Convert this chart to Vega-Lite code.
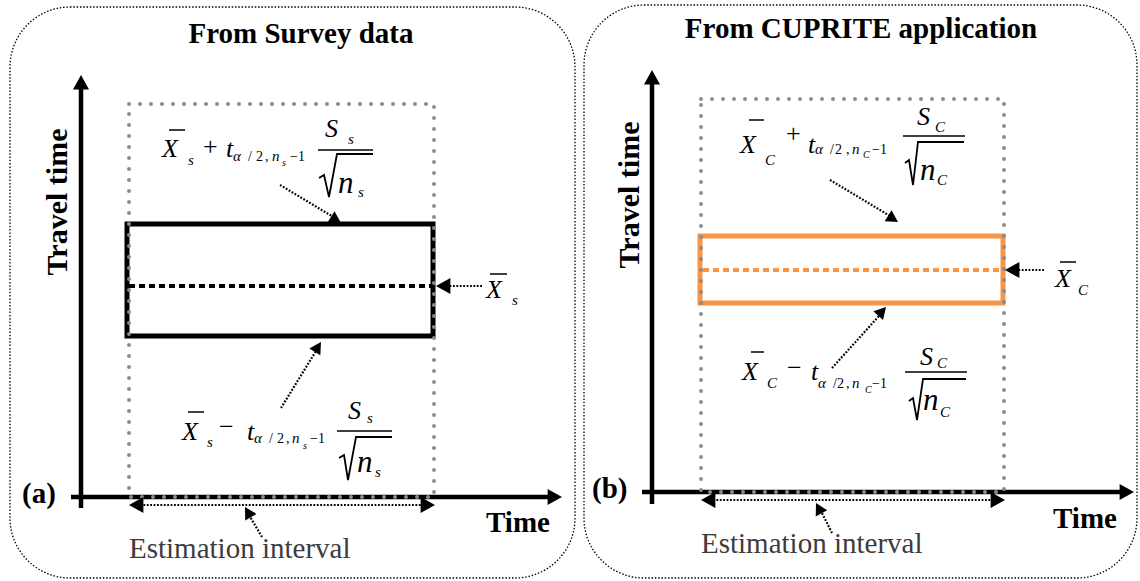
{
  "$schema": "https://vega.github.io/schema/vega-lite/v6.json",
  "width": 1140,
  "height": 581,
  "padding": 0,
  "autosize": {"type": "fit", "contains": "padding"},
  "config": {"view": {"stroke": null}, "font": "'Liberation Serif', 'DejaVu Serif', serif"},
  "datasets": {
    "panels": [
      {"x": 10, "x2": 575, "y": 7, "y2": 578},
      {"x": 584, "x2": 1137, "y": 5, "y2": 578}
    ],
    "windows": [
      {"x": 129, "x2": 434, "y": 104, "y2": 497},
      {"x": 701, "x2": 1004, "y": 99, "y2": 492}
    ],
    "ciS": [{"x": 127, "x2": 433, "y": 224, "y2": 336}],
    "ciC": [{"x": 700, "x2": 1003, "y": 236, "y2": 303}],
    "meanS": [{"x": 129, "x2": 431, "y": 286, "y2": 286}],
    "meanC": [{"x": 703, "x2": 1000, "y": 270, "y2": 270}],
    "axes": [
      {"x": 81, "x2": 81, "y": 508, "y2": 85},
      {"x": 71, "x2": 550, "y": 497, "y2": 497},
      {"x": 652, "x2": 652, "y": 504, "y2": 80},
      {"x": 642, "x2": 1122, "y": 492, "y2": 492}
    ],
    "pointers": [
      {"x": 280, "y": 185, "x2": 335, "y2": 218},
      {"x": 281, "y": 408, "x2": 316, "y2": 351},
      {"x": 482, "y": 286, "x2": 448, "y2": 286},
      {"x": 262, "y": 537, "x2": 249, "y2": 515},
      {"x": 140, "y": 505, "x2": 423, "y2": 505},
      {"x": 830, "y": 180, "x2": 890, "y2": 216},
      {"x": 832, "y": 368, "x2": 879, "y2": 316},
      {"x": 1044, "y": 270, "x2": 1016, "y2": 270},
      {"x": 832, "y": 533, "x2": 821, "y2": 511},
      {"x": 713, "y": 500, "x2": 992, "y2": 500}
    ],
    "bigHeads": [
      {"x": 81, "y": 75, "a": 0},
      {"x": 562, "y": 497, "a": 90},
      {"x": 652, "y": 70, "a": 0},
      {"x": 1134, "y": 492, "a": 90},
      {"x": 436, "y": 286, "a": 270},
      {"x": 1005, "y": 270, "a": 270},
      {"x": 129, "y": 505, "a": 270},
      {"x": 435, "y": 505, "a": 90},
      {"x": 701, "y": 500, "a": 270},
      {"x": 1005, "y": 500, "a": 90}
    ],
    "smallHeads": [
      {"x": 341, "y": 223, "a": 122},
      {"x": 321, "y": 342, "a": 32},
      {"x": 245, "y": 507, "a": 330},
      {"x": 898, "y": 222, "a": 122},
      {"x": 886, "y": 307, "a": 42},
      {"x": 816, "y": 503, "a": 332}
    ],
    "thin": [
      {"x": 318, "x2": 373, "y": 150, "y2": 150},
      {"x": 169, "x2": 185, "y": 130, "y2": 130},
      {"x": 337, "x2": 392, "y": 431, "y2": 431},
      {"x": 188, "x2": 204, "y": 412, "y2": 412},
      {"x": 903, "x2": 965, "y": 136, "y2": 136},
      {"x": 749, "x2": 764, "y": 120, "y2": 120},
      {"x": 905, "x2": 967, "y": 372, "y2": 372},
      {"x": 751, "x2": 764, "y": 352, "y2": 352},
      {"x": 490, "x2": 507, "y": 274, "y2": 274},
      {"x": 1060, "x2": 1076, "y": 262, "y2": 262}
    ],
    "radicals": [
      {"id": 1, "k": 1, "x": 319, "y": 178}, {"id": 1, "k": 2, "x": 324, "y": 175}, {"id": 1, "k": 3, "x": 329, "y": 197}, {"id": 1, "k": 4, "x": 337, "y": 154}, {"id": 1, "k": 5, "x": 373, "y": 154},
      {"id": 2, "k": 1, "x": 339, "y": 458}, {"id": 2, "k": 2, "x": 344, "y": 455}, {"id": 2, "k": 3, "x": 348, "y": 480}, {"id": 2, "k": 4, "x": 356, "y": 437}, {"id": 2, "k": 5, "x": 392, "y": 437},
      {"id": 3, "k": 1, "x": 905, "y": 163}, {"id": 3, "k": 2, "x": 909, "y": 160}, {"id": 3, "k": 3, "x": 913, "y": 185}, {"id": 3, "k": 4, "x": 918, "y": 142}, {"id": 3, "k": 5, "x": 964, "y": 142},
      {"id": 4, "k": 1, "x": 909, "y": 401}, {"id": 4, "k": 2, "x": 913, "y": 398}, {"id": 4, "k": 3, "x": 917, "y": 420}, {"id": 4, "k": 4, "x": 923, "y": 379}, {"id": 4, "k": 5, "x": 966, "y": 379}
    ],
    "titles": [
      {"x": 301, "y": 43, "t": "From Survey data"},
      {"x": 861, "y": 38, "t": "From CUPRITE application"}
    ],
    "ylabels": [
      {"x": 67, "y": 202, "t": "Travel time"},
      {"x": 639, "y": 195, "t": "Travel time"}
    ],
    "boldLabels": [
      {"x": 486, "y": 532, "t": "Time"},
      {"x": 1053, "y": 528, "t": "Time"},
      {"x": 22, "y": 503, "t": "(a)"},
      {"x": 592, "y": 498, "t": "(b)"}
    ],
    "interval": [
      {"x": 129, "y": 558, "t": "Estimation interval"},
      {"x": 701, "y": 553, "t": "Estimation interval"}
    ],
    "mathBig": [
      {"x": 162, "y": 157, "t": "X"}, {"x": 226, "y": 157, "t": "t"}, {"x": 325, "y": 137, "t": "S"},
      {"x": 182, "y": 440, "t": "X"}, {"x": 247, "y": 440, "t": "t"}, {"x": 348, "y": 419, "t": "S"},
      {"x": 740, "y": 153, "t": "X"}, {"x": 808, "y": 153, "t": "t"}, {"x": 917, "y": 125, "t": "S"},
      {"x": 742, "y": 380, "t": "X"}, {"x": 811, "y": 380, "t": "t"}, {"x": 920, "y": 365, "t": "S"},
      {"x": 486, "y": 298, "t": "X"}, {"x": 1055, "y": 287, "t": "X"}
    ],
    "mathDen": [
      {"x": 338, "y": 193, "t": "n"}, {"x": 357, "y": 472, "t": "n"},
      {"x": 920, "y": 180, "t": "n"}, {"x": 923, "y": 410, "t": "n"}
    ],
    "mathOp": [
      {"x": 203, "y": 155, "t": "+"}, {"x": 219, "y": 435, "t": "−"},
      {"x": 786, "y": 142, "t": "+"}, {"x": 787, "y": 376, "t": "−"}
    ],
    "mathSub": [
      {"x": 188, "y": 165, "t": "s"}, {"x": 348, "y": 144, "t": "s"}, {"x": 358, "y": 197, "t": "s"}, {"x": 233, "y": 161, "t": "α"}, {"x": 272, "y": 161, "t": "n"},
      {"x": 207, "y": 447, "t": "s"}, {"x": 367, "y": 423, "t": "s"}, {"x": 375, "y": 477, "t": "s"}, {"x": 254, "y": 443, "t": "α"}, {"x": 292, "y": 443, "t": "n"},
      {"x": 765, "y": 165, "t": "C"}, {"x": 935, "y": 132, "t": "C"}, {"x": 937, "y": 185, "t": "C"}, {"x": 815, "y": 154, "t": "α"}, {"x": 852, "y": 154, "t": "n"},
      {"x": 767, "y": 388, "t": "C"}, {"x": 937, "y": 368, "t": "C"}, {"x": 940, "y": 417, "t": "C"}, {"x": 818, "y": 388, "t": "α"}, {"x": 852, "y": 388, "t": "n"},
      {"x": 512, "y": 305, "t": "s"}, {"x": 1078, "y": 295, "t": "C"}
    ],
    "mathSubUp": [
      {"x": 248, "y": 161, "t": "/"}, {"x": 256, "y": 161, "t": "2"}, {"x": 265, "y": 161, "t": ","}, {"x": 290, "y": 161, "t": "−1"},
      {"x": 269, "y": 443, "t": "/"}, {"x": 277, "y": 443, "t": "2"}, {"x": 286, "y": 443, "t": ","}, {"x": 310, "y": 443, "t": "−1"},
      {"x": 830, "y": 154, "t": "/"}, {"x": 835, "y": 154, "t": "2"}, {"x": 846, "y": 154, "t": ","}, {"x": 872, "y": 154, "t": "−1"},
      {"x": 833, "y": 388, "t": "/"}, {"x": 837, "y": 388, "t": "2"}, {"x": 846, "y": 388, "t": ","}, {"x": 872, "y": 388, "t": "−1"}
    ],
    "mathSubSub": [
      {"x": 282, "y": 166, "t": "s"}, {"x": 303, "y": 449, "t": "s"},
      {"x": 863, "y": 158, "t": "C"}, {"x": 865, "y": 393, "t": "C"}
    ]
  },
  "encoding": {
    "x": {"field": "x", "type": "quantitative", "scale": {"domain": [0, 1140], "nice": false, "zero": false}, "axis": null},
    "y": {"field": "y", "type": "quantitative", "scale": {"domain": [0, 581], "nice": false, "zero": false, "reverse": true}, "axis": null}
  },
  "layer": [
    {"data": {"name": "panels"}, "mark": {"type": "rect", "cornerRadius": 60, "fillOpacity": 0, "stroke": "black", "strokeWidth": 1.3, "strokeDash": [1.5, 1.8]},
     "encoding": {"x2": {"field": "x2"}, "y2": {"field": "y2"}}},
    {"data": {"name": "axes"}, "mark": {"type": "rule", "color": "black", "strokeWidth": 4.5},
     "encoding": {"x2": {"field": "x2"}, "y2": {"field": "y2"}}},
    {"data": {"name": "ciS"}, "mark": {"type": "rect", "fillOpacity": 0, "stroke": "black", "strokeWidth": 5},
     "encoding": {"x2": {"field": "x2"}, "y2": {"field": "y2"}}},
    {"data": {"name": "ciC"}, "mark": {"type": "rect", "fillOpacity": 0, "stroke": "#F79646", "strokeWidth": 5},
     "encoding": {"x2": {"field": "x2"}, "y2": {"field": "y2"}}},
    {"data": {"name": "meanS"}, "mark": {"type": "rule", "color": "black", "strokeWidth": 4, "strokeDash": [6, 4]},
     "encoding": {"x2": {"field": "x2"}, "y2": {"field": "y2"}}},
    {"data": {"name": "meanC"}, "mark": {"type": "rule", "color": "#F79646", "strokeWidth": 4, "strokeDash": [6, 4]},
     "encoding": {"x2": {"field": "x2"}, "y2": {"field": "y2"}}},
    {"data": {"name": "windows"}, "mark": {"type": "rect", "fillOpacity": 0, "stroke": "#8c8c8c", "strokeWidth": 4, "strokeDash": [0, 11], "strokeCap": "round"},
     "encoding": {"x2": {"field": "x2"}, "y2": {"field": "y2"}}},
    {"data": {"name": "pointers"}, "mark": {"type": "rule", "color": "black", "strokeWidth": 2.2, "strokeDash": [1.8, 1.6]},
     "encoding": {"x2": {"field": "x2"}, "y2": {"field": "y2"}}},
    {"data": {"name": "thin"}, "mark": {"type": "rule", "color": "black", "strokeWidth": 1.5},
     "encoding": {"x2": {"field": "x2"}, "y2": {"field": "y2"}}},
    {"data": {"name": "radicals"}, "mark": {"type": "line", "color": "black", "strokeWidth": 1.8, "strokeJoin": "miter"},
     "encoding": {"detail": {"field": "id"}, "order": {"field": "k", "type": "quantitative"}}},
    {"data": {"name": "bigHeads"}, "mark": {"type": "point", "shape": "M0,0L1,1.8L-1,1.8Z", "filled": true, "color": "black", "opacity": 1, "size": 256, "strokeWidth": 0},
     "encoding": {"angle": {"field": "a", "type": "quantitative", "scale": null}}},
    {"data": {"name": "smallHeads"}, "mark": {"type": "point", "shape": "M0,0L1,1.8L-1,1.8Z", "filled": true, "color": "black", "opacity": 1, "size": 169, "strokeWidth": 0},
     "encoding": {"angle": {"field": "a", "type": "quantitative", "scale": null}}},
    {"data": {"name": "titles"}, "mark": {"type": "text", "align": "center", "baseline": "alphabetic", "font": "'Liberation Serif', 'DejaVu Serif', serif", "fontWeight": "bold", "fontSize": 29, "color": "black"},
     "encoding": {"text": {"field": "t"}}},
    {"data": {"name": "ylabels"}, "mark": {"type": "text", "align": "center", "baseline": "alphabetic", "angle": 270, "font": "'Liberation Serif', 'DejaVu Serif', serif", "fontWeight": "bold", "fontSize": 30, "color": "black"},
     "encoding": {"text": {"field": "t"}}},
    {"data": {"name": "boldLabels"}, "mark": {"type": "text", "align": "left", "baseline": "alphabetic", "font": "'Liberation Serif', 'DejaVu Serif', serif", "fontWeight": "bold", "fontSize": 29, "color": "black"},
     "encoding": {"text": {"field": "t"}}},
    {"data": {"name": "interval"}, "mark": {"type": "text", "align": "left", "baseline": "alphabetic", "font": "'Liberation Serif', 'DejaVu Serif', serif", "fontSize": 29, "color": "#3c3c3c"},
     "encoding": {"text": {"field": "t"}}},
    {"data": {"name": "mathBig"}, "mark": {"type": "text", "align": "left", "baseline": "alphabetic", "font": "'Liberation Serif', 'DejaVu Serif', serif", "fontStyle": "italic", "fontSize": 26, "color": "black"},
     "encoding": {"text": {"field": "t"}}},
    {"data": {"name": "mathDen"}, "mark": {"type": "text", "align": "left", "baseline": "alphabetic", "font": "'Liberation Serif', 'DejaVu Serif', serif", "fontStyle": "italic", "fontSize": 31, "color": "black"},
     "encoding": {"text": {"field": "t"}}},
    {"data": {"name": "mathOp"}, "mark": {"type": "text", "align": "left", "baseline": "alphabetic", "font": "'Liberation Serif', 'DejaVu Serif', serif", "fontSize": 26, "color": "black"},
     "encoding": {"text": {"field": "t"}}},
    {"data": {"name": "mathSub"}, "mark": {"type": "text", "align": "left", "baseline": "alphabetic", "font": "'Liberation Serif', 'DejaVu Serif', serif", "fontStyle": "italic", "fontSize": 15, "color": "black"},
     "encoding": {"text": {"field": "t"}}},
    {"data": {"name": "mathSubUp"}, "mark": {"type": "text", "align": "left", "baseline": "alphabetic", "font": "'Liberation Serif', 'DejaVu Serif', serif", "fontSize": 14, "color": "black"},
     "encoding": {"text": {"field": "t"}}},
    {"data": {"name": "mathSubSub"}, "mark": {"type": "text", "align": "left", "baseline": "alphabetic", "font": "'Liberation Serif', 'DejaVu Serif', serif", "fontStyle": "italic", "fontSize": 10, "color": "black"},
     "encoding": {"text": {"field": "t"}}}
  ]
}
